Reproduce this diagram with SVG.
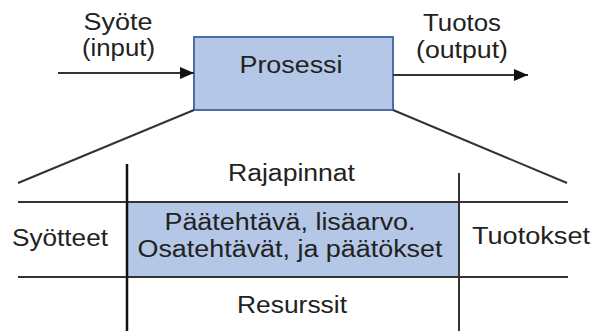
<svg xmlns="http://www.w3.org/2000/svg" width="596" height="335" viewBox="0 0 596 335">
<style>
text{font-family:"Liberation Sans",Arial,sans-serif;font-size:23px;fill:#222;text-anchor:middle}
.ln{stroke:#333;stroke-width:2;fill:none}
.box{fill:#b4c7e7;stroke:#4a6ea8;stroke-width:2}
</style>
<defs>
<marker id="ah" markerWidth="14" markerHeight="12" refX="14" refY="6" orient="auto" markerUnits="userSpaceOnUse">
<path d="M0,0 L14,6 L0,12 Z" fill="#111"/>
</marker>
</defs>
<g id="prosessi">
<rect class="box" x="194" y="37" width="199" height="73"/>
<text x="291" y="73" textLength="103" lengthAdjust="spacingAndGlyphs">Prosessi</text>
</g>
<g id="sisalto">
<rect x="127" y="202" width="332" height="75" fill="#b4c7e7"/>
<text x="290" y="230" textLength="251" lengthAdjust="spacingAndGlyphs">Päätehtävä, lisäarvo.</text>
<text x="290" y="257" textLength="305" lengthAdjust="spacingAndGlyphs">Osatehtävät, ja päätökset</text>
</g>
<g id="syote"><text x="118" y="30" textLength="69" lengthAdjust="spacingAndGlyphs">Syöte</text><text x="118.5" y="56" textLength="73" lengthAdjust="spacingAndGlyphs">(input)</text></g>
<g id="tuotos"><text x="462" y="31" textLength="78" lengthAdjust="spacingAndGlyphs">Tuotos</text><text x="462" y="58" textLength="92" lengthAdjust="spacingAndGlyphs">(output)</text></g>
<g id="rajapinnat"><text x="291.5" y="181" textLength="127" lengthAdjust="spacingAndGlyphs">Rajapinnat</text></g>
<g id="syotteet"><text x="60" y="246" textLength="96" lengthAdjust="spacingAndGlyphs">Syötteet</text></g>
<g id="tuotokset"><text x="531" y="244" textLength="118" lengthAdjust="spacingAndGlyphs">Tuotokset</text></g>
<g id="resurssit"><text x="292" y="313" textLength="110" lengthAdjust="spacingAndGlyphs">Resurssit</text></g>
<g id="connectors">
<line class="ln" x1="58" y1="73" x2="194" y2="73" marker-end="url(#ah)"/>
<line class="ln" x1="393" y1="75" x2="528" y2="75" marker-end="url(#ah)"/>
<line class="ln" x1="194" y1="110" x2="18" y2="183"/>
<line class="ln" x1="393" y1="110" x2="567" y2="183"/>
<line class="ln" x1="18" y1="202" x2="568" y2="202"/>
<line class="ln" x1="18" y1="277" x2="568" y2="277"/>
<line class="ln" x1="127" y1="164" x2="127" y2="331" style="stroke:#111;stroke-width:2.5"/>
<line class="ln" x1="459" y1="173" x2="459" y2="331"/>
</g>
</svg>
